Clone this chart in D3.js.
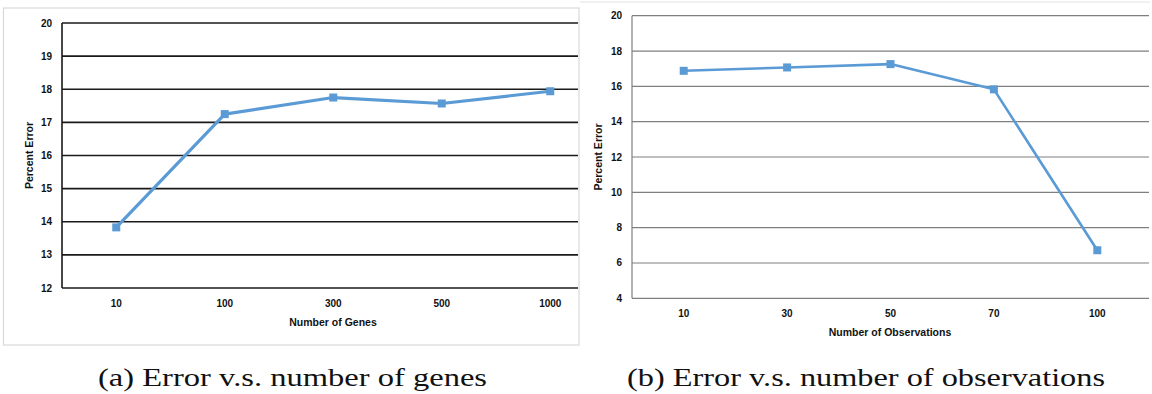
<!DOCTYPE html>
<html>
<head>
<meta charset="utf-8">
<script src="https://cdn.jsdelivr.net/npm/d3@7"></script>
<style>
  html, body { margin: 0; padding: 0; background: #fff; }
  svg { display: block; }
</style>
</head>
<body>
<div id="chart"></div>
<script>
// panel (a)
const geneCategories = ['10', '100', '300', '500', '1000'];
const geneError = [13.83, 17.25, 17.75, 17.57, 17.94];
const geneTicks = [12, 13, 14, 15, 16, 17, 18, 19, 20];

// panel (b)
const obsCategories = ['10', '30', '50', '70', '100'];
const obsError = [16.88, 17.07, 17.26, 15.83, 6.72];
const obsTicks = [4, 6, 8, 10, 12, 14, 16, 18, 20];

const captions = ['(a) Error v.s. number of genes', '(b) Error v.s. number of observations'];

const width = 1152;
const height = 394;
const lineColor = '#5b9bd5';
const labelFont = '"Liberation Sans", Arial, sans-serif';

const svg = d3.select('#chart')
  .append('svg')
  .attr('width', width)
  .attr('height', height);

function drawPanel(opts) {
  const g = svg.append('g');

  if (opts.frame) {
    g.append('rect')
      .attr('x', opts.frame.x).attr('y', opts.frame.y)
      .attr('width', opts.frame.w).attr('height', opts.frame.h)
      .attr('fill', 'none')
      .attr('stroke', '#d9d9d9')
      .attr('stroke-width', 1.2);
  }
  if (opts.topRule) {
    g.append('line')
      .attr('x1', opts.topRule.x1).attr('x2', opts.topRule.x2)
      .attr('y1', opts.topRule.y).attr('y2', opts.topRule.y)
      .attr('stroke', '#e3e3e3')
      .attr('stroke-width', 1.2);
  }

  const x = d3.scaleBand()
    .domain(opts.categories)
    .range([opts.left, opts.left + opts.bandWidth * opts.categories.length]);

  const y = d3.scaleLinear()
    .domain(d3.extent(opts.ticks))
    .range([opts.bottom, opts.top]);

  // horizontal gridlines
  g.append('g')
    .selectAll('line')
    .data(opts.ticks)
    .join('line')
    .attr('x1', opts.left)
    .attr('x2', opts.gridRight)
    .attr('y1', d => y(d))
    .attr('y2', d => y(d))
    .attr('stroke', opts.gridColor)
    .attr('stroke-width', opts.gridWidth);

  // vertical axis line
  g.append('line')
    .attr('x1', opts.left).attr('x2', opts.left)
    .attr('y1', opts.top).attr('y2', opts.bottom)
    .attr('stroke', opts.gridColor)
    .attr('stroke-width', opts.gridWidth);

  // y tick labels
  g.append('g')
    .selectAll('text')
    .data(opts.ticks)
    .join('text')
    .attr('x', opts.left - 10)
    .attr('y', d => y(d))
    .attr('dy', '0.35em')
    .attr('text-anchor', 'end')
    .style('font-family', labelFont)
    .style('font-weight', 'bold')
    .style('font-size', '10px')
    .attr('fill', '#111')
    .text(d => d);

  // x tick labels
  g.append('g')
    .selectAll('text')
    .data(opts.categories)
    .join('text')
    .attr('x', d => x(d) + x.bandwidth() / 2)
    .attr('y', opts.bottom + 15)
    .attr('dy', '0.35em')
    .attr('text-anchor', 'middle')
    .style('font-family', labelFont)
    .style('font-weight', 'bold')
    .style('font-size', '10px')
    .attr('fill', '#111')
    .text(d => d);

  // axis titles
  g.append('text')
    .attr('x', opts.xTitleX)
    .attr('y', opts.bottom + 34)
    .attr('dy', '0.35em')
    .attr('text-anchor', 'middle')
    .style('font-family', labelFont)
    .style('font-weight', 'bold')
    .style('font-size', '10.5px')
    .attr('fill', '#111')
    .text(opts.xTitle);

  g.append('text')
    .attr('transform', `translate(${opts.yTitleX}, ${(opts.top + opts.bottom) / 2}) rotate(-90)`)
    .attr('dy', '0.35em')
    .attr('text-anchor', 'middle')
    .style('font-family', labelFont)
    .style('font-weight', 'bold')
    .style('font-size', '10.5px')
    .attr('fill', '#111')
    .text(opts.yTitle);

  const points = opts.categories.map((c, i) => ({ c, v: opts.values[i] }));

  const line = d3.line()
    .x(d => x(d.c) + x.bandwidth() / 2)
    .y(d => y(d.v));

  g.append('path')
    .datum(points)
    .attr('fill', 'none')
    .attr('stroke', lineColor)
    .attr('stroke-width', opts.lineWidth)
    .attr('stroke-linejoin', 'round')
    .attr('d', line);

  const m = 8;
  g.append('g')
    .selectAll('rect')
    .data(points)
    .join('rect')
    .attr('x', d => x(d.c) + x.bandwidth() / 2 - m / 2)
    .attr('y', d => y(d.v) - m / 2)
    .attr('width', m)
    .attr('height', m)
    .attr('fill', lineColor);

  // caption
  svg.append('text')
    .attr('x', opts.captionX)
    .attr('y', 386)
    .attr('textLength', opts.captionLen)
    .attr('lengthAdjust', 'spacingAndGlyphs')
    .style('font-family', '"Liberation Serif", "DejaVu Serif", serif')
    .style('font-size', '26px')
    .attr('fill', '#111')
    .text(opts.caption);
}

drawPanel({
  categories: geneCategories,
  values: geneError,
  ticks: geneTicks,
  left: 62, top: 23, bottom: 288,
  bandWidth: 108.5,
  gridRight: 578,
  gridColor: '#1a1a1a',
  gridWidth: 1.6,
  lineWidth: 3.2,
  xTitle: 'Number of Genes',
  xTitleX: 333,
  yTitle: 'Percent Error',
  yTitleX: 29,
  frame: { x: 3.5, y: 8, w: 575.5, h: 337 },
  caption: captions[0],
  captionX: 98,
  captionLen: 389
});

drawPanel({
  categories: obsCategories,
  values: obsError,
  ticks: obsTicks,
  left: 632, top: 15.7, bottom: 298.3,
  bandWidth: 103.4,
  gridRight: 1149,
  gridColor: '#7f7f7f',
  gridWidth: 1.2,
  lineWidth: 2.6,
  xTitle: 'Number of Observations',
  xTitleX: 890,
  yTitle: 'Percent Error',
  yTitleX: 598,
  topRule: { x1: 580, x2: 1150, y: 2 },
  caption: captions[1],
  captionX: 627,
  captionLen: 478
});
</script>
</body>
</html>
